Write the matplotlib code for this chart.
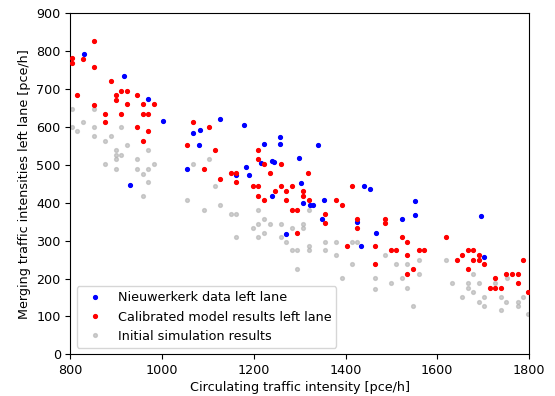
import numpy as np
import matplotlib.pyplot as plt

# Nieuwerkerk data left lane
nw_x = [829, 916, 970, 1001, 1067, 1083, 1080, 1055, 1126, 930,
        1178, 1257, 1223, 1257, 1341, 1299, 1239, 1243, 1216, 1183,
        1189, 1160, 1303, 1239, 1308, 1322, 1329, 1354, 1348, 1424,
        1441, 1453, 1271, 1434, 1466, 1524, 1552, 1552, 1695, 1702]
nw_y = [791, 735, 673, 615, 583, 592, 551, 488, 620, 448,
        605, 573, 554, 554, 551, 519, 510, 507, 504, 495,
        473, 473, 451, 419, 399, 394, 394, 407, 356, 350,
        444, 436, 317, 287, 321, 356, 404, 367, 365, 257]

# Calibrated model results left lane
cal_x = [852, 803, 803, 827, 852, 888, 815, 852, 899, 899,
         910, 923, 946, 923, 876, 876, 910, 958, 983, 958,
         970, 946, 970, 958, 1067, 1103, 1055, 1116, 1091, 1126,
         1150, 1162, 1162, 1198, 1210, 1210, 1210, 1223, 1259, 1235,
         1319, 1210, 1223, 1247, 1259, 1271, 1283, 1271, 1307, 1307,
         1320, 1283, 1295, 1356, 1356, 1295, 1380, 1392, 1414, 1426,
         1426, 1403, 1465, 1465, 1487, 1487, 1524, 1535, 1500, 1511,
         1535, 1560, 1572, 1548, 1535, 1620, 1644, 1654, 1667, 1679,
         1679, 1667, 1691, 1691, 1703, 1727, 1715, 1727, 1740, 1751,
         1764, 1776, 1776, 1788, 1799]
cal_y = [827, 781, 769, 780, 757, 720, 683, 658, 685, 671,
         695, 695, 685, 659, 635, 613, 635, 659, 659, 635,
         635, 600, 588, 563, 613, 600, 551, 539, 490, 463,
         478, 478, 455, 444, 444, 539, 514, 502, 502, 478,
         478, 419, 407, 431, 444, 431, 444, 407, 431, 419,
         407, 382, 382, 370, 346, 321, 407, 394, 444, 357,
         333, 287, 287, 238, 357, 346, 309, 297, 274, 274,
         262, 274, 274, 226, 213, 309, 250, 262, 274, 274,
         250, 226, 262, 250, 238, 201, 176, 176, 176, 213,
         213, 213, 189, 250, 164]

# Initial simulation results
ini_x = [803, 852, 827, 803, 815, 852, 852, 876, 888, 910,
         923, 899, 899, 899, 910, 876, 899, 946, 970, 946,
         970, 958, 983, 1103, 1067, 970, 958, 1055, 1091, 1116,
         1126, 1150, 1162, 1162, 1210, 1223, 1210, 1198, 1223, 1210,
         1235, 1259, 1259, 1271, 1284, 1307, 1307, 1320, 1283, 1295,
         1320, 1320, 1295, 1356, 1356, 1380, 1380, 1415, 1426, 1415,
         1392, 1465, 1465, 1487, 1500, 1511, 1524, 1535, 1535, 1560,
         1560, 1548, 1620, 1633, 1654, 1667, 1667, 1679, 1679, 1691,
         1691, 1703, 1703, 1727, 1740, 1740, 1751, 1752, 1776, 1776,
         1788, 1799]
ini_y = [647, 647, 613, 600, 588, 600, 576, 563, 576, 600,
         551, 539, 526, 514, 526, 501, 490, 514, 539, 490,
         490, 477, 501, 514, 501, 455, 419, 407, 382, 444,
         394, 370, 370, 309, 382, 357, 345, 333, 321, 309,
         345, 345, 309, 297, 333, 345, 333, 382, 274, 274,
         287, 274, 225, 297, 274, 297, 262, 297, 297, 238,
         201, 201, 172, 262, 189, 238, 201, 238, 176, 250,
         213, 128, 250, 189, 152, 189, 176, 213, 164, 189,
         139, 152, 128, 189, 152, 118, 139, 201, 139, 128,
         152, 106]

plt.rcParams['font.size'] = 9.2

fig = plt.figure(figsize=(5.55, 3.96), dpi=100)
ax = fig.add_axes([0.127, 0.105, 0.826, 0.862])

ax.plot(nw_x, nw_y, '.', color='blue', markersize=5.5, zorder=3, label='Nieuwerkerk data left lane')
ax.plot(cal_x, cal_y, '.', color='red', markersize=5.5, zorder=4, label='Calibrated model results left lane')
ax.plot(ini_x, ini_y, '.', color='#b0b0b0', alpha=0.6, markersize=5.5, zorder=2,
        label='Initial simulation results')

ax.set_xlim(800, 1800)
ax.set_ylim(0, 900)
ax.set_xlabel('Circulating traffic intensity [pce/h]', labelpad=3)
ax.set_ylabel('Merging traffic intensities left lane [pce/h]')
ax.legend(loc='lower left')

fig.savefig('out.png', dpi=100)
